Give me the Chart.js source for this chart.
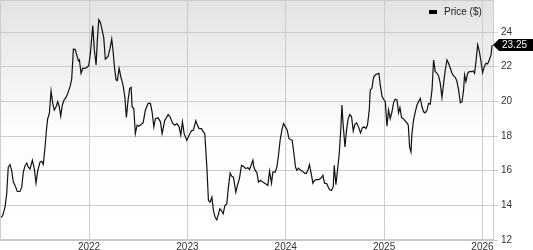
<!DOCTYPE html>
<html lang="en">
<head>
    <meta charset="UTF-8">
    <title>Price chart</title>
    <script src="https://cdn.jsdelivr.net/npm/chart.js"></script>
    <style>
        html, body { margin: 0; padding: 0; background: #fff; }
        #wrap { width: 533px; height: 250px; position: relative; }
    </style>
</head>
<body>
    <div id="wrap"><canvas id="price-chart"></canvas></div>
    <script>
    // decimal years
    const dates = [
        2021.095, 2021.122, 2021.146, 2021.163, 2021.179, 2021.197, 2021.214, 2021.230, 2021.248, 2021.271,
        2021.298, 2021.316, 2021.332, 2021.349, 2021.367, 2021.383, 2021.400, 2021.424, 2021.444, 2021.461,
        2021.479, 2021.502, 2021.519, 2021.535, 2021.553, 2021.570, 2021.580, 2021.597, 2021.614, 2021.631,
        2021.647, 2021.665, 2021.682, 2021.698, 2021.712, 2021.729, 2021.746, 2021.766, 2021.784, 2021.807,
        2021.824, 2021.841, 2021.858, 2021.875, 2021.892, 2021.902, 2021.919, 2021.936, 2021.963, 2021.997,
        2022.014, 2022.038, 2022.054, 2022.072, 2022.085, 2022.099, 2022.115, 2022.133, 2022.150, 2022.166,
        2022.194, 2022.214, 2022.231, 2022.245, 2022.258, 2022.275, 2022.288, 2022.306, 2022.323, 2022.346,
        2022.364, 2022.380, 2022.397, 2022.414, 2022.428, 2022.438, 2022.455, 2022.471, 2022.489, 2022.506,
        2022.532, 2022.550, 2022.573, 2022.601, 2022.624, 2022.641, 2022.659, 2022.675, 2022.702, 2022.726,
        2022.743, 2022.770, 2022.781, 2022.804, 2022.824, 2022.848, 2022.872, 2022.893, 2022.916, 2022.933,
        2022.950, 2022.967, 2022.994, 2023.018, 2023.041, 2023.061, 2023.086, 2023.102, 2023.119, 2023.143,
        2023.163, 2023.177, 2023.198, 2023.214, 2023.231, 2023.249, 2023.265, 2023.282, 2023.299, 2023.316,
        2023.330, 2023.346, 2023.364, 2023.381, 2023.401, 2023.417, 2023.435, 2023.452, 2023.468, 2023.493,
        2023.509, 2023.529, 2023.550, 2023.570, 2023.594, 2023.615, 2023.631, 2023.648, 2023.666, 2023.676,
        2023.692, 2023.706, 2023.723, 2023.743, 2023.767, 2023.794, 2023.818, 2023.835, 2023.855, 2023.869,
        2023.893, 2023.910, 2023.926, 2023.943, 2023.961, 2023.977, 2023.997, 2024.015, 2024.032, 2024.048,
        2024.065, 2024.083, 2024.099, 2024.113, 2024.130, 2024.150, 2024.174, 2024.191, 2024.208, 2024.225,
        2024.241, 2024.259, 2024.276, 2024.292, 2024.310, 2024.337, 2024.361, 2024.378, 2024.394, 2024.418,
        2024.439, 2024.449, 2024.465, 2024.483, 2024.493, 2024.510, 2024.526, 2024.544, 2024.561, 2024.571,
        2024.584, 2024.602, 2024.618, 2024.635, 2024.652, 2024.669, 2024.686, 2024.703, 2024.720, 2024.737,
        2024.760, 2024.778, 2024.795, 2024.815, 2024.831, 2024.849, 2024.859, 2024.876, 2024.893, 2024.910,
        2024.927, 2024.947, 2024.961, 2024.978, 2024.994, 2025.012, 2025.029, 2025.045, 2025.062, 2025.080,
        2025.096, 2025.113, 2025.131, 2025.147, 2025.161, 2025.177, 2025.195, 2025.212, 2025.232, 2025.246,
        2025.259, 2025.273, 2025.283, 2025.299, 2025.317, 2025.334, 2025.350, 2025.368, 2025.385, 2025.401,
        2025.418, 2025.436, 2025.452, 2025.469, 2025.487, 2025.503, 2025.520, 2025.537, 2025.554, 2025.571,
        2025.588, 2025.605, 2025.622, 2025.639, 2025.655, 2025.673, 2025.690, 2025.706, 2025.724, 2025.741,
        2025.757, 2025.775, 2025.792, 2025.808, 2025.818, 2025.832, 2025.849, 2025.866, 2025.886, 2025.904,
        2025.920, 2025.934, 2025.951, 2025.968, 2025.985, 2026.001, 2026.018, 2026.036, 2026.052, 2026.069,
        2026.087, 2026.097
    ];
    const prices = [
        13.27, 13.40, 13.90, 14.67, 16.20, 16.35, 16.00, 15.34, 15.15, 14.80,
        14.80, 15.05, 15.92, 16.27, 16.44, 16.20, 16.10, 16.60, 16.10, 15.28,
        16.00, 16.50, 16.54, 16.35, 17.37, 18.53, 19.00, 19.30, 20.60, 19.88,
        19.50, 19.69, 19.98, 19.69, 19.15, 19.79, 20.08, 20.23, 20.46, 20.85,
        21.28, 23.01, 23.00, 22.68, 22.34, 22.40, 21.62, 21.90, 21.90, 22.05,
        22.78, 24.37, 22.97, 22.10, 23.55, 24.71, 24.56, 24.13, 23.65, 22.43,
        22.59, 23.07, 23.59, 22.88, 22.01, 21.24, 21.20, 21.91, 21.43, 20.94,
        20.27, 19.07, 20.08, 20.75, 20.81, 19.69, 19.59, 18.14, 18.63, 18.57,
        18.68, 18.76, 19.50, 19.88, 19.88, 19.40, 18.53, 19.00, 19.05, 18.82,
        18.14, 18.91, 19.00, 19.24, 19.11, 18.76, 18.63, 18.72, 18.53, 18.05,
        18.82, 18.14, 17.76, 18.05, 18.30, 18.34, 18.88, 18.63, 18.43, 18.43,
        18.24, 18.14, 16.21, 14.28, 14.18, 14.47, 13.70, 13.31, 13.16, 13.51,
        13.80, 13.70, 13.51, 13.99, 14.09, 15.05, 15.86, 15.67, 15.63, 14.76,
        15.15, 15.54, 16.31, 16.25, 16.12, 16.17, 16.06, 16.31, 16.60, 16.21,
        15.98, 15.92, 15.34, 15.44, 15.34, 15.25, 15.15, 15.98, 15.28, 15.92,
        15.92, 16.21, 16.89, 17.76, 18.34, 18.72, 18.53, 18.34, 17.86, 17.80,
        17.76, 16.99, 16.21, 16.02, 16.15, 16.02, 15.96, 15.86, 15.83, 16.02,
        16.35, 15.83, 15.28, 15.44, 15.48, 15.48, 15.59, 15.73, 15.28, 15.25,
        14.96, 14.90, 14.86, 15.09, 16.31, 15.19, 16.02, 16.99, 18.53, 19.79,
        18.63, 17.37, 18.34, 19.00, 19.24, 19.11, 18.28, 18.68, 18.76, 18.57,
        18.18, 18.47, 18.53, 18.43, 18.63, 19.50, 20.66, 20.75, 21.39, 21.52,
        21.58, 21.62, 20.94, 20.31, 20.12, 19.98, 18.57, 19.50, 19.00, 19.40,
        19.92, 20.12, 20.08, 19.34, 19.65, 19.07, 19.00, 18.88, 18.76, 18.63,
        17.37, 17.08, 18.14, 18.91, 19.40, 19.79, 19.98, 20.17, 19.69, 19.40,
        19.34, 19.50, 19.88, 19.84, 20.66, 22.39, 21.72, 21.62, 21.47, 21.04,
        20.23, 21.04, 21.81, 22.39, 22.20, 21.91, 21.62, 21.47, 21.39, 21.14,
        20.66, 19.92, 19.98, 20.66, 21.52, 21.14, 21.62, 21.72, 21.72, 21.76,
        21.62, 22.30, 23.27, 22.88, 22.30, 21.66, 22.00, 22.20, 22.16, 22.39,
        22.68, 23.25
    ];
    const yearTicks = [2022, 2023, 2024, 2025, 2026];
    const priceTicks = [12, 14, 16, 18, 20, 22, 24];
    const seriesLabel = 'Price ($)';

    const FONT = '"Liberation Sans", Arial, sans-serif';

    // background gradient + frame of the plot
    const plotFrame = {
        id: 'plotFrame',
        beforeDraw(chart) {
            const { ctx, chartArea: a } = chart;
            const g = ctx.createLinearGradient(0, a.top, 0, a.bottom);
            g.addColorStop(0, '#e3e3e3');
            g.addColorStop(0.55, '#fdfdfd');
            g.addColorStop(1, '#ffffff');
            ctx.save();
            ctx.fillStyle = g;
            ctx.fillRect(a.left, a.top, a.right - a.left, a.bottom - a.top);
            ctx.restore();
        },
        afterDraw(chart) {
            const { ctx, chartArea: a } = chart;
            ctx.save();
            ctx.strokeStyle = '#cccccc';
            ctx.lineWidth = 1;
            ctx.beginPath();
            ctx.moveTo(a.left + 0.5, a.bottom);
            ctx.lineTo(a.left + 0.5, a.top + 0.5);
            ctx.lineTo(a.right, a.top + 0.5);
            ctx.stroke();

            // legend
            ctx.fillStyle = '#000';
            ctx.fillRect(429, 10, 8, 4);
            ctx.font = '10px ' + FONT;
            ctx.fillStyle = '#222';
            ctx.textBaseline = 'middle';
            ctx.textAlign = 'left';
            ctx.fillText(seriesLabel, 444, 12);

            // last value flag
            const last = prices[prices.length - 1];
            const y = chart.scales.y.getPixelForValue(last);
            ctx.fillStyle = '#000';
            ctx.beginPath();
            ctx.moveTo(a.right, y);
            ctx.lineTo(a.right + 6, y - 6);
            ctx.lineTo(533, y - 6);
            ctx.lineTo(533, y + 6);
            ctx.lineTo(a.right + 6, y + 6);
            ctx.closePath();
            ctx.fill();
            ctx.fillStyle = '#fff';
            ctx.fillText(last.toFixed(2), 502, y + 0.5);
            ctx.restore();
        }
    };

    new Chart(document.getElementById('price-chart'), {
        type: 'line',
        data: {
            datasets: [{
                label: seriesLabel,
                data: dates.map((d, i) => ({ x: d, y: prices[i] })),
                borderColor: '#111',
                borderWidth: 1.2,
                pointRadius: 0,
                tension: 0,
                fill: false
            }]
        },
        options: {
            responsive: true,
            maintainAspectRatio: false,
            animation: false,
            layout: { padding: 0 },
            plugins: {
                legend: { display: false },
                tooltip: { enabled: false }
            },
            scales: {
                x: {
                    type: 'linear',
                    min: 2021.095,
                    max: 2026.107,
                    afterBuildTicks: s => { s.ticks = yearTicks.map(v => ({ value: v })); },
                    afterFit: s => { s.height = 10; s.paddingLeft = 0; s.paddingRight = 0; },
                    grid: { color: '#cccccc', drawTicks: false },
                    border: { color: '#c8c8c8', width: 2 },
                    ticks: {
                        padding: 1,
                        maxRotation: 0,
                        autoSkip: false,
                        color: '#333',
                        font: { family: FONT, size: 10 },
                        callback: v => String(v)
                    }
                },
                y: {
                    position: 'right',
                    min: 12,
                    max: 25.85,
                    afterBuildTicks: s => { s.ticks = priceTicks.map(v => ({ value: v })); },
                    afterFit: s => { s.width = 40; s.paddingTop = 0; s.paddingBottom = 0; },
                    grid: { color: '#cccccc', tickLength: 5 },
                    border: { color: '#cccccc' },
                    ticks: {
                        padding: 3,
                        color: '#333',
                        font: { family: FONT, size: 10 }
                    }
                }
            }
        },
        plugins: [plotFrame]
    });
    </script>
</body>
</html>
